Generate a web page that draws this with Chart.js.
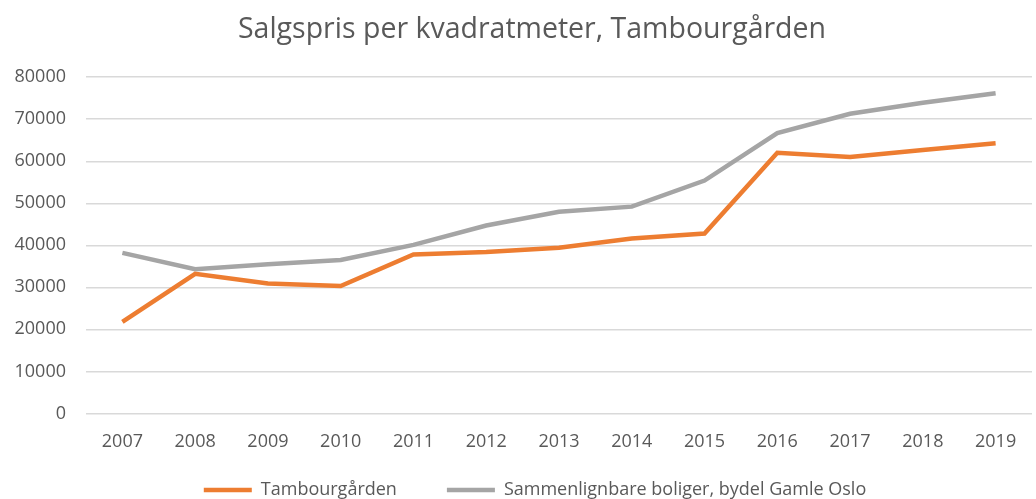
<!DOCTYPE html>
<html>
<head>
<meta charset="utf-8">
<script src="https://cdn.jsdelivr.net/npm/chart.js@4"></script>
<style>
  html, body { margin: 0; padding: 0; background: #fff; }
  #wrap { width: 1036px; height: 499px; }
</style>
</head>
<body>
<div id="wrap"><canvas id="myChart" width="1036" height="499"></canvas></div>
<script>
const years = ['2007', '2008', '2009', '2010', '2011', '2012', '2013', '2014', '2015', '2016', '2017', '2018', '2019'];
const tambourgarden = [21800, 33200, 30900, 30300, 37800, 38400, 39400, 41600, 42800, 62000, 61000, 62700, 64300];
const gamleOslo = [38200, 34300, 35500, 36500, 40100, 44700, 48000, 49200, 55400, 66700, 71300, 73900, 76200];

const font = "'Open Sans', 'Liberation Sans', sans-serif";

// nudge title and legend a bit like the excel original
const nudge = {
   id: 'nudge',
   afterLayout(chart) {
      const t = chart.titleBlock;
      t.left += 16; t.right += 16;
      const l = chart.legend;
      const dy = 431 - l.top;
      l.top += dy; l.bottom += dy;
      l.left += 19; l.right += 19;
   }
};

var ctx = document.getElementById('myChart').getContext('2d');
var chart = new Chart(ctx, {
   type: 'line',
   data: {
      labels: years,
      datasets: [{
         label: 'Tambourgården',
         data: tambourgarden,
         borderColor: '#ED7D31',
         backgroundColor: '#ED7D31',
         borderWidth: 4.5,
         pointRadius: 0,
         tension: 0
      }, {
         label: 'Sammenlignbare boliger, bydel Gamle Oslo',
         data: gamleOslo,
         borderColor: '#A5A5A5',
         backgroundColor: '#A5A5A5',
         borderWidth: 4.5,
         pointRadius: 0,
         tension: 0
      }]
   },
   options: {
      responsive: false,
      animation: false,
      layout: { padding: { left: 0, right: 4, top: 13, bottom: -50 } },
      plugins: {
         title: {
            display: true,
            text: 'Salgspris per kvadratmeter, Tambourgården',
            color: '#595959',
            font: { family: font, size: 28.5, weight: 'normal' },
            padding: { top: 0, bottom: 30 }
         },
         legend: {
            position: 'bottom',
            labels: {
               usePointStyle: true,
               pointStyle: 'line',
               pointStyleWidth: 48,
               color: '#595959',
               font: { family: font, size: 18 },
               padding: 50
            }
         },
         tooltip: { enabled: false }
      },
      scales: {
         x: {
            offset: true,
            grid: { display: false, drawTicks: false },
            border: { display: false },
            ticks: { color: '#595959', font: { family: font, size: 18 }, padding: 18 }
         },
         y: {
            min: 0,
            max: 80000,
            ticks: {
               stepSize: 10000,
               color: '#595959',
               font: { family: font, size: 18 },
               padding: 20,
               callback: function (v) { return String(v); }
            },
            grid: { color: '#D9D9D9', lineWidth: 1.5, drawTicks: false },
            border: { display: false },
            afterFit: function (axis) { axis.width = 86; }
         }
      }
   },
   plugins: [nudge]
});
</script>
</body>
</html>
